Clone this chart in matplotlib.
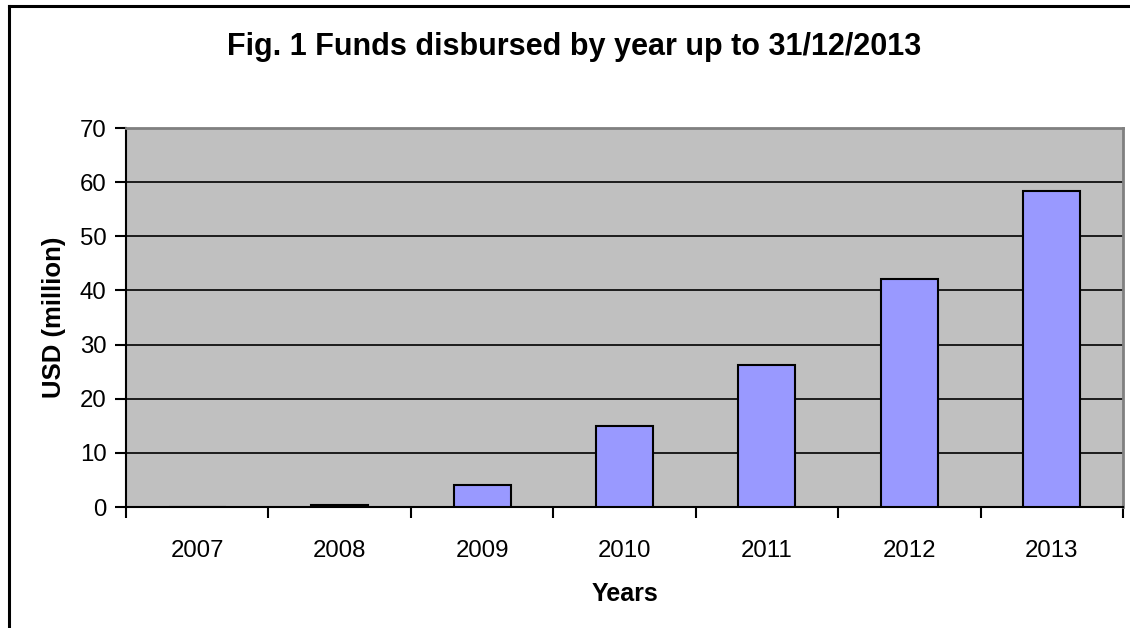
import matplotlib
matplotlib.use("Agg")
import matplotlib.pyplot as plt
from matplotlib.lines import Line2D
import numpy as np

years = ["2007", "2008", "2009", "2010", "2011", "2012", "2013"]
funds = [0.0, 0.4, 4.0, 15.0, 26.2, 42.1, 58.3]
yticks = [0, 10, 20, 30, 40, 50, 60, 70]

plt.rcParams['font.family'] = ['Liberation Sans', 'DejaVu Sans']

fig = plt.figure(figsize=(11.3, 6.28), dpi=100)
ax = fig.add_axes([126/1130, 1-507/628, 997/1130, 379/628])
ax.set_facecolor('#C0C0C0')

x = np.arange(len(years))
ax.bar(x, funds, width=0.4, color='#9999FF', edgecolor='black', linewidth=1.5, zorder=3)

ax.set_xlim(-0.5, len(years)-0.5)
ax.set_ylim(0, 70)
ax.set_yticks(yticks)
ax.yaxis.grid(True, color='black', linewidth=1.2, zorder=1)
ax.set_axisbelow(True)

ax.set_xticks(x)
ax.set_xticklabels(years, fontsize=17.3)
ax.set_xticks(np.arange(len(years)+1)-0.5, minor=True)
ax.tick_params(axis='x', which='major', length=0, pad=24)
ax.tick_params(axis='x', which='minor', length=8, width=1.5, direction='out')
ax.tick_params(axis='y', labelsize=17.3, length=8, width=1.5, direction='out', pad=6)

for s in ['left', 'bottom']:
    ax.spines[s].set_color('black')
    ax.spines[s].set_linewidth(1.5)
for s in ['top', 'right']:
    ax.spines[s].set_color('#808080')
    ax.spines[s].set_linewidth(2)

ax.set_ylabel('USD (million)', fontsize=18.5, fontweight='bold', labelpad=10)
ax.set_xlabel('Years', fontsize=18, fontweight='bold', labelpad=14)

fig.text(574/1130, 1-55/628, 'Fig. 1 Funds disbursed by year up to 31/12/2013',
         ha='center', va='baseline', fontsize=22, fontweight='bold')

# outer chart border (right and bottom edges lie outside the image)
fig.add_artist(Line2D([8.5/1130, 8.5/1130], [-0.05, 1-5.5/628], transform=fig.transFigure,
                      color='black', linewidth=2.2))
fig.add_artist(Line2D([8.5/1130, 1.05], [1-5.5/628, 1-5.5/628], transform=fig.transFigure,
                      color='black', linewidth=2.2))

fig.savefig('out.png', dpi=100)
